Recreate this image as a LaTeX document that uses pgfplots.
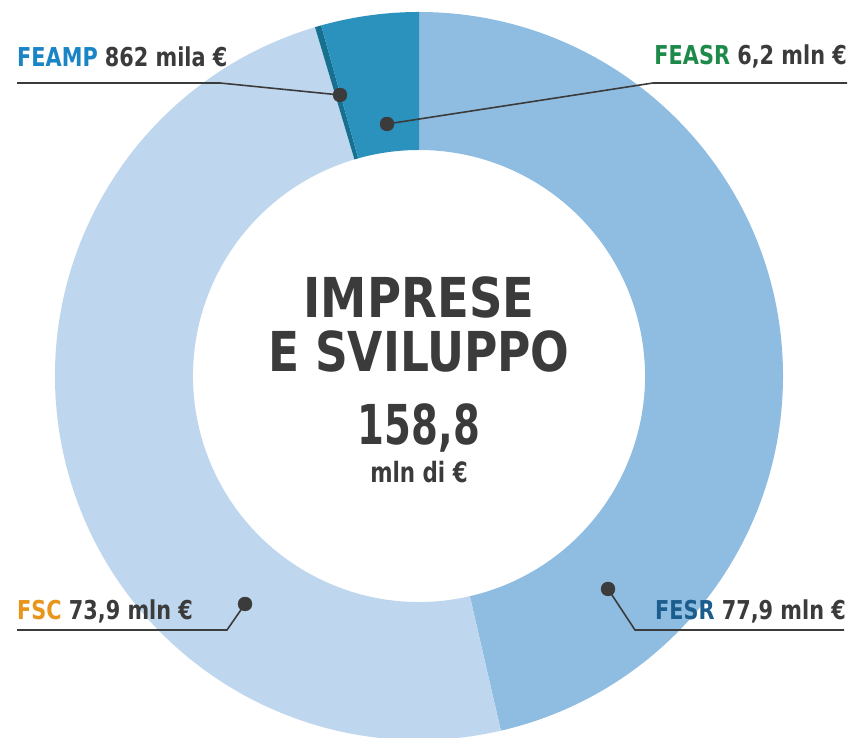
\documentclass[border=0pt]{standalone}
\usepackage{fontspec}
\setmainfont{DejaVu Sans Condensed}
\usepackage{pgfplots}
\usepackage{pgfplotstable}
\usepackage{graphicx}
\pgfplotsset{compat=1.18}
\definecolor{cFESR}{HTML}{8FBDE1}
\definecolor{cFSC}{HTML}{BFD7EE}
\definecolor{cFEAMP}{HTML}{17708F}
\definecolor{cFEASR}{HTML}{2A92BD}
\definecolor{txt}{HTML}{3B3B3B}
\definecolor{tFEAMP}{HTML}{1A84C4}
\definecolor{tFEASR}{HTML}{1E8A4A}
\definecolor{tFSC}{HTML}{E8951C}
\definecolor{tFESR}{HTML}{1B5E8E}
% value in mln EUR; start/stop = angle (deg, clockwise from top) as drawn
\pgfplotstableread{
name  value  start  stop   color
FESR  77.9   0      167.0  cFESR
FSC   73.9   167.0  343.4  cFSC
FEAMP 0.862  343.4  344.4  cFEAMP
FEASR 6.2    344.4  360.0  cFEASR
}\segs
\begin{document}
\begin{tikzpicture}
\path (0,0) rectangle (851pt,738pt);
\begin{axis}[x=1pt,y=1pt,xmin=0,xmax=851,ymin=0,ymax=738,hide axis,
  at={(0,0)},anchor=south west]
\pgfplotsinvokeforeach{0,...,3}{%
  \pgfplotstablegetelem{#1}{start}\of\segs \pgfmathsetmacro\aS{90-\pgfplotsretval}%
  \pgfplotstablegetelem{#1}{stop}\of\segs \pgfmathsetmacro\aE{90-\pgfplotsretval}%
  \pgfplotstablegetelem{#1}{color}\of\segs \let\cc\pgfplotsretval
  \edef\cmd{\noexpand\fill[\cc] (axis cs:{419+364*cos(\aS)},{362+364*sin(\aS)}) arc[start angle=\aS, end angle=\aE, radius=364pt] -- (axis cs:{419+226*cos(\aE)},{362+226*sin(\aE)}) arc[start angle=\aE, end angle=\aS, radius=226pt] -- cycle;}%
  \cmd
}
% leader lines
\draw[txt, line width=1.6pt] (axis cs:17,655) -- (axis cs:220,655) -- (axis cs:340,643);
\draw[txt, line width=1.6pt] (axis cs:387,614) -- (axis cs:653,655) -- (axis cs:847,655);
\draw[txt, line width=1.6pt] (axis cs:245,134) -- (axis cs:227,108) -- (axis cs:17,108);
\draw[txt, line width=1.6pt] (axis cs:608,149) -- (axis cs:635,108) -- (axis cs:844,108);
\addplot[only marks, mark=*, mark size=7pt, color=txt] coordinates {(340,643) (387,614) (245,134) (608,149)};
% labels
\node[anchor=base west, inner sep=0pt, text=txt, font=\fontsize{26}{30}\selectfont\bfseries] at (axis cs:17,671) {\scalebox{0.89}[1]{\textcolor{tFEAMP}{FEAMP} 862 mila €}};
\node[anchor=base east, inner sep=0pt, text=txt, font=\fontsize{26}{30}\selectfont\bfseries] at (axis cs:847,673) {\scalebox{0.89}[1]{\textcolor{tFEASR}{FEASR} 6,2 mln €}};
\node[anchor=base west, inner sep=0pt, text=txt, font=\fontsize{26}{30}\selectfont\bfseries] at (axis cs:17,118) {\scalebox{0.89}[1]{\textcolor{tFSC}{FSC} 73,9 mln €}};
\node[anchor=base east, inner sep=0pt, text=txt, font=\fontsize{26}{30}\selectfont\bfseries] at (axis cs:846,118) {\scalebox{0.89}[1]{\textcolor{tFESR}{FESR} 77,9 mln €}};
% centre
\node[anchor=base, inner sep=0pt, text=txt, font=\fontsize{55}{60}\selectfont\bfseries] at (axis cs:419,420) {\scalebox{0.94}[1]{IMPRESE}};
\node[anchor=base, inner sep=0pt, text=txt, font=\fontsize{55}{60}\selectfont\bfseries] at (axis cs:419,366) {\scalebox{0.92}[1]{E SVILUPPO}};
\node[anchor=base, inner sep=0pt, text=txt, font=\fontsize{55}{60}\selectfont\bfseries] at (axis cs:419,293) {\scalebox{0.78}[1]{158,8}};
\node[anchor=base, inner sep=0pt, text=txt, font=\fontsize{28}{32}\selectfont\bfseries] at (axis cs:419,255) {\scalebox{0.85}[1]{mln di €}};
\end{axis}
\end{tikzpicture}
\end{document}
